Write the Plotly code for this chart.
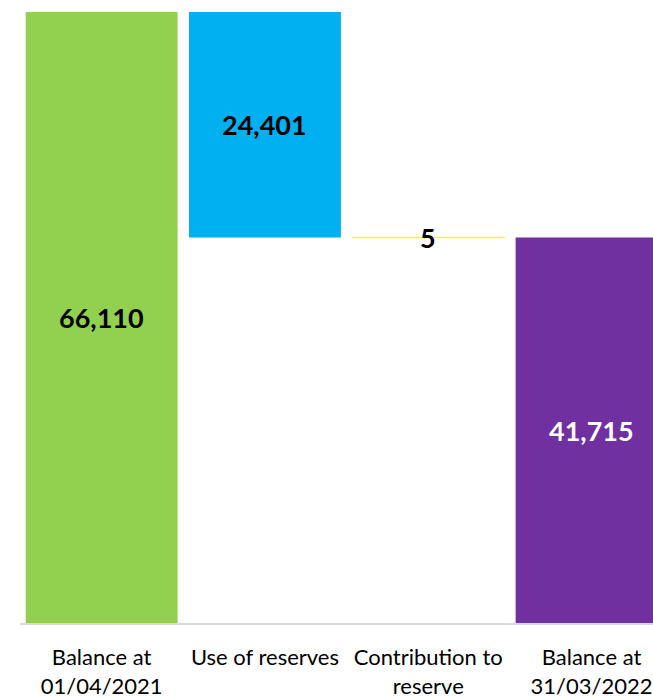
import plotly.graph_objects as go

# ---- data ----
categories = ["Balance at<br>01/04/2021", "Use of reserves", "Contribution to<br>reserve", "Balance at<br>31/03/2022"]
opening_balance = 66110
use_of_reserves = -24401
contribution = 5
closing_balance = 41715
bar_colors = ["#92D050", "#00B0F0", "#FFFF00", "#7030A0"]
label_colors = ["black", "black", "black", "white"]

# waterfall geometry from the data
after_use = opening_balance + use_of_reserves
bases = [0, after_use, after_use, 0]
heights = [opening_balance, -use_of_reserves, contribution, closing_balance]
labels = [f"{abs(v):,}" for v in [opening_balance, use_of_reserves, contribution, closing_balance]]

fig = go.Figure()
fig.add_trace(go.Bar(
    x=categories, y=heights, base=bases,
    marker=dict(color=bar_colors,
                line=dict(color=["rgba(0,0,0,0)", "rgba(0,0,0,0)", "#FFFF00", "rgba(0,0,0,0)"], width=1.3)),
    width=0.93,
    hoverinfo="skip",
))

for i, (c, b, h, t, col) in enumerate(zip(categories, bases, heights, labels, label_colors)):
    fig.add_annotation(x=c, y=b + h / 2, text=f"<b>{t}</b>", showarrow=False,
                       font=dict(family="Lato", size=27, color=col),
                       xanchor="center", yanchor="middle")

W, H = 653, 699
ml, mr, mt, mb = 20, 0, 5, 71
plot_h = H - mt - mb
cat_px = 163.3
plot_w = W - ml - mr
fig.update_layout(
    width=W, height=H,
    margin=dict(l=ml, r=mr, t=mt, b=mb),
    paper_bgcolor="white", plot_bgcolor="white",
    showlegend=False,
    font=dict(family="Lato", size=22, color="black"),
    xaxis=dict(type="category", range=[-0.5, -0.5 + plot_w / cat_px],
               showline=True, linecolor="#D9D9D9", linewidth=1.5,
               showgrid=False, ticks="", tickfont=dict(family="Lato", size=22, color="black"),
               ticklabelstandoff=14),
    yaxis=dict(range=[0, opening_balance * plot_h / 616], visible=False, showgrid=False, zeroline=False),
)

fig.write_html("out.html", config={"displayModeBar": False},
               post_script="document.body.style.margin='0';document.body.style.overflow='hidden';")
